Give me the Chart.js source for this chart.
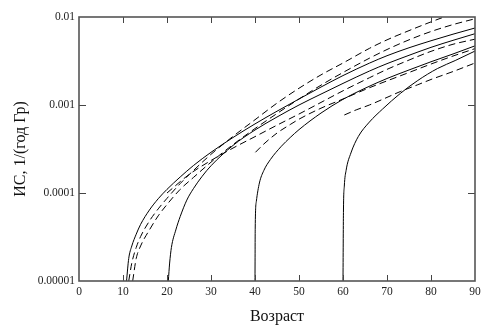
<!DOCTYPE html>
<html>
<head>
<meta charset="utf-8">
<script src="https://cdn.jsdelivr.net/npm/chart.js@4"></script>
<style>
  html, body { margin: 0; padding: 0; background: #fff; }
  #wrap { width: 496px; height: 333px; }
</style>
</head>
<body>
<div id="wrap"><canvas id="risk-chart"></canvas></div>
<script>
// x ticks and y ticks
var xTicks = [0, 10, 20, 30, 40, 50, 60, 70, 80, 90];
var yTickValues = [0.00001, 0.0001, 0.001, 0.01];
var yTickLabels = ['0.00001', '0.0001', '0.001', '0.01'];

// solid curves (start at 10, 20, 40, 60)
var s10Age = [10.8, 11.3, 12, 13, 14, 16, 18, 20, 23, 26, 30, 35, 40, 45, 50, 55, 60, 66, 70, 75, 80, 85, 90];
var s10Val = [1e-5, 1.8e-5, 2.5e-5, 3.4e-5, 4.4e-5, 6.4e-5, 8.6e-5, 1.1e-4, 1.52e-4, 2.05e-4, 2.9e-4, 4.27e-4, 6.1e-4, 8.5e-4, 1.17e-3, 1.6e-3, 2.16e-3, 2.99e-3, 3.63e-3, 4.47e-3, 5.37e-3, 6.38e-3, 7.5e-3];

var s20Age = [20.3, 20.6, 21, 22, 23, 24.5, 26, 28, 30, 35, 40, 45, 50, 55, 60, 66, 70, 75, 80, 85, 90];
var s20Val = [1e-5, 1.6e-5, 2.4e-5, 3.8e-5, 5.4e-5, 8.3e-5, 1.12e-4, 1.55e-4, 2.04e-4, 3.47e-4, 5.2e-4, 7.3e-4, 1.0e-3, 1.33e-3, 1.76e-3, 2.43e-3, 2.95e-3, 3.67e-3, 4.52e-3, 5.43e-3, 6.46e-3];

var s40Age = [40, 40.05, 40.3, 41, 42, 43.5, 46, 48, 50, 55, 60, 65, 70, 75, 80, 85, 90];
var s40Val = [1e-5, 4e-5, 8e-5, 1.3e-4, 1.8e-4, 2.4e-4, 3.4e-4, 4.27e-4, 5.25e-4, 8.1e-4, 1.16e-3, 1.55e-3, 2.0e-3, 2.5e-3, 3.1e-3, 3.8e-3, 4.7e-3];

var s60Age = [60, 60.1, 60.3, 60.7, 61.8, 63.5, 66, 69, 73, 77, 81.5, 85.5, 90];
var s60Val = [1e-5, 6e-5, 1.2e-4, 1.8e-4, 2.85e-4, 4.4e-4, 6.4e-4, 9e-4, 1.35e-3, 1.9e-3, 2.6e-3, 3.2e-3, 4.1e-3];

// dashed curves
var daAge = [11.3, 12, 13, 14, 16, 18, 20, 23, 26, 30, 35, 40, 45, 50, 55, 60, 66, 70, 75, 80, 85];
var daVal = [1e-5, 1.6e-5, 2.4e-5, 3.2e-5, 4.8e-5, 6.6e-5, 8.7e-5, 1.28e-4, 1.8e-4, 2.75e-4, 4.4e-4, 6.8e-4, 1.05e-3, 1.55e-3, 2.2e-3, 3.0e-3, 4.4e-3, 5.5e-3, 7.0e-3, 8.8e-3, 1.09e-2];

var dbAge = [12.2, 13, 14, 16, 18, 20, 23, 26, 30, 35, 40, 45, 50, 55, 60, 66, 70, 75, 80, 85, 90];
var dbVal = [1e-5, 1.8e-5, 2.5e-5, 3.8e-5, 5.5e-5, 7.4e-5, 1.1e-4, 1.5e-4, 2.24e-4, 3.55e-4, 5.4e-4, 8.0e-4, 1.17e-3, 1.68e-3, 2.34e-3, 3.4e-3, 4.27e-3, 5.5e-3, 6.84e-3, 8.2e-3, 9.55e-3];

var d20Age = [20, 25, 30, 35, 40, 45, 50, 55, 60, 66, 70, 75, 80, 85, 90];
var d20Val = [1.0e-4, 1.62e-4, 2.34e-4, 3.24e-4, 4.37e-4, 5.9e-4, 7.9e-4, 1.07e-3, 1.45e-3, 2.04e-3, 2.54e-3, 3.24e-3, 4.07e-3, 4.9e-3, 5.6e-3];

var d40Age = [40.1, 42, 45, 48, 50, 55, 60, 66, 70, 75, 80, 85, 90];
var d40Val = [2.9e-4, 3.6e-4, 4.8e-4, 6.0e-4, 6.9e-4, 9.2e-4, 1.17e-3, 1.57e-3, 1.88e-3, 2.34e-3, 2.92e-3, 3.6e-3, 4.37e-3];

var d60Age = [60.3, 63, 66, 70, 73, 77, 80, 85, 90];
var d60Val = [7.7e-4, 8.8e-4, 1.0e-3, 1.22e-3, 1.42e-3, 1.7e-3, 1.95e-3, 2.4e-3, 3.0e-3];

function pts(ages, vals) {
    return ages.map(function (a, i) { return { x: a, y: vals[i] }; });
}

function line(ages, vals, dashed) {
    return {
        data: pts(ages, vals),
        borderColor: '#000',
        borderWidth: 1,
        borderDash: dashed ? [7, 4] : [],
        pointRadius: 0,
        fill: false,
        cubicInterpolationMode: 'monotone'
    };
}

// frame and inward ticks, like the original plot
var framePlugin = {
    id: 'frame',
    afterDraw: function (chart) {
        var ctx = chart.ctx, a = chart.chartArea;
        var xs = chart.scales.x, ys = chart.scales.y;
        ctx.save();
        ctx.strokeStyle = '#444';
        ctx.lineWidth = 1;
        xTicks.slice(1, -1).forEach(function (v) {
            var px = Math.round(xs.getPixelForValue(v)) + 0.5;
            ctx.beginPath();
            ctx.moveTo(px, a.bottom); ctx.lineTo(px, a.bottom - 6);
            ctx.moveTo(px, a.top); ctx.lineTo(px, a.top + 6);
            ctx.stroke();
        });
        yTickValues.slice(1, -1).forEach(function (v) {
            var py = Math.round(ys.getPixelForValue(v)) + 0.5;
            ctx.beginPath();
            ctx.moveTo(a.left, py); ctx.lineTo(a.left + 7, py);
            ctx.moveTo(a.right, py); ctx.lineTo(a.right - 7, py);
            ctx.stroke();
        });
        ctx.lineWidth = 1.6;
        ctx.strokeStyle = '#555';
        ctx.strokeRect(a.left, a.top, a.right - a.left, a.bottom - a.top);
        ctx.restore();
    }
};

var serif = 'Liberation Serif, "Times New Roman", serif';

new Chart(document.getElementById('risk-chart'), {
    type: 'line',
    data: {
        datasets: [
            line(s10Age, s10Val, false),
            line(s20Age, s20Val, false),
            line(s40Age, s40Val, false),
            line(s60Age, s60Val, false),
            line(daAge, daVal, true),
            line(dbAge, dbVal, true),
            line(d20Age, d20Val, true),
            line(d40Age, d40Val, true),
            line(d60Age, d60Val, true)
        ]
    },
    options: {
        responsive: true,
        maintainAspectRatio: false,
        animation: false,
        layout: { padding: { top: 17, right: 21, left: 0, bottom: 0 } },
        plugins: { legend: { display: false }, tooltip: { enabled: false } },
        scales: {
            x: {
                type: 'linear',
                min: 0,
                max: 90,
                afterFit: function (s) { s.height = 52; },
                ticks: { stepSize: 10, color: '#222', font: { family: serif, size: 11.5 }, padding: 4 },
                grid: { display: false, drawTicks: false },
                border: { display: false },
                title: { display: true, text: 'Возраст', color: '#111', font: { family: serif, size: 16 }, padding: { top: 4, bottom: 7 } }
            },
            y: {
                type: 'logarithmic',
                min: 0.00001,
                max: 0.01,
                afterFit: function (s) { s.width = 79; },
                afterBuildTicks: function (s) {
                    s.ticks = yTickValues.map(function (v) { return { value: v }; });
                },
                ticks: {
                    color: '#222',
                    font: { family: serif, size: 11.5 },
                    padding: 4,
                    callback: function (v) {
                        var i = yTickValues.indexOf(v);
                        return i >= 0 ? yTickLabels[i] : '';
                    }
                },
                grid: { display: false, drawTicks: false },
                border: { display: false },
                title: { display: true, text: 'ИС, 1/(год Гр)', color: '#111', font: { family: serif, size: 16 }, padding: { top: 11, bottom: 0 } }
            }
        }
    },
    plugins: [framePlugin]
});
</script>
</body>
</html>
